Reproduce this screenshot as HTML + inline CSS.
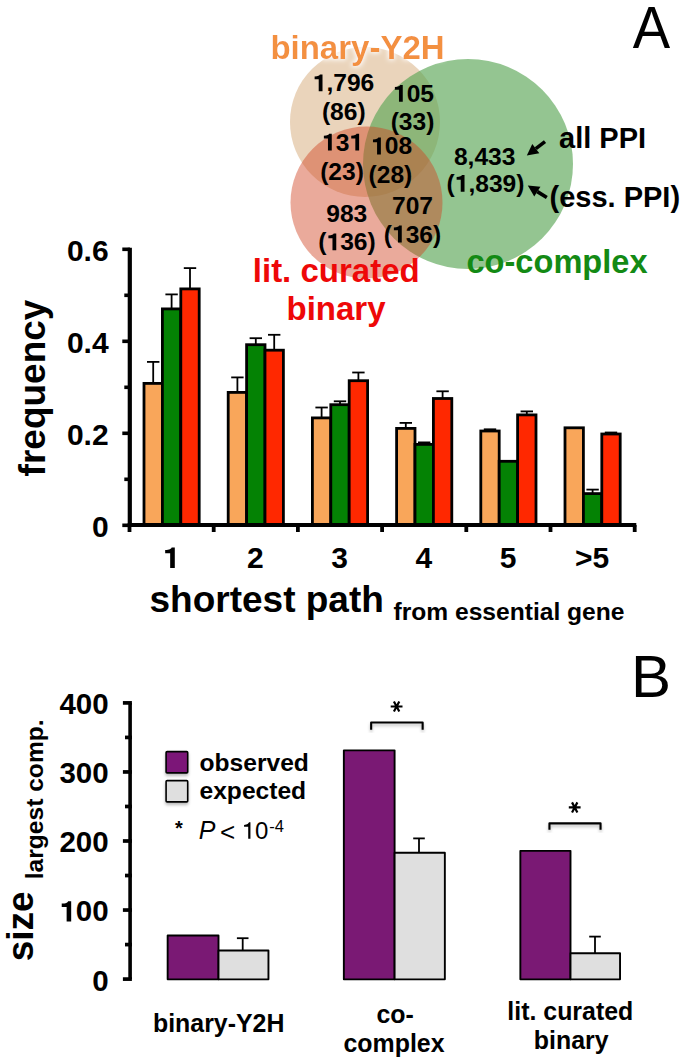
<!DOCTYPE html><html><head><meta charset="utf-8"><style>
html,body{margin:0;padding:0;background:#fff;}
svg{display:block;}
text{font-family:"Liberation Sans", sans-serif;}
.b{font-weight:bold;}
.h{fill-opacity:0;}
</style></head><body>
<svg width="685" height="1064" viewBox="0 0 685 1064">
<defs><filter id="sh" x="-20%" y="-20%" width="140%" height="160%"><feDropShadow dx="0" dy="2.2" stdDeviation="1.6" flood-color="#000" flood-opacity="0.28"/></filter><filter id="glow" x="-10%" y="-40%" width="120%" height="180%"><feMorphology in="SourceAlpha" operator="dilate" radius="1" result="d"/><feGaussianBlur in="d" stdDeviation="2.4" result="b"/><feFlood flood-color="#fff" flood-opacity="1"/><feComposite in2="b" operator="in" result="g"/><feMerge><feMergeNode in="g"/><feMergeNode in="SourceGraphic"/></feMerge></filter><filter id="sh2" x="-5%" y="-5%" width="110%" height="110%"><feDropShadow dx="0.6" dy="1.2" stdDeviation="1.2" flood-color="#000" flood-opacity="0.12"/></filter></defs>
<text x="632.8" y="47.8" font-size="60" textLength="37.4" lengthAdjust="spacingAndGlyphs">A</text>
<circle cx="365" cy="122" r="75" fill="#EAD4BB"/>
<circle cx="468" cy="164" r="105" fill="rgb(90,166,86)" fill-opacity="0.65"/>
<circle cx="366.5" cy="202.5" r="76" fill="rgb(208,66,33)" fill-opacity="0.45"/>
<text class="b" x="270.4" y="58.5" font-size="33" fill="#F3903F" filter="url(#glow)">binary-Y2H</text>
<text id="t1" class="b" x="343.5" y="91.3" font-size="24.6" text-anchor="middle"><tspan class="h">1</tspan>,796</text>
<text class="b" x="343.8" y="119.6" font-size="24.6" text-anchor="middle">(86)</text>
<text id="t2" class="b" x="413.5" y="101.8" font-size="24.6" text-anchor="middle"><tspan class="h">1</tspan>05</text>
<text class="b" x="412.5" y="130.2" font-size="24.6" text-anchor="middle">(33)</text>
<text id="t3" class="b" x="342.5" y="150.6" font-size="24.6" text-anchor="middle"><tspan class="h">1</tspan>3<tspan class="h">1</tspan></text>
<text class="b" x="342.0" y="179.6" font-size="24.6" text-anchor="middle">(23)</text>
<text id="t4" class="b" x="391.6" y="154.4" font-size="24.6" text-anchor="middle"><tspan class="h">1</tspan>08</text>
<text class="b" x="390.4" y="183.3" font-size="24.6" text-anchor="middle">(28)</text>
<text class="b" x="346.8" y="222.0" font-size="24.6" text-anchor="middle">983</text>
<text id="t5" class="b" x="347.0" y="250.3" font-size="24.6" text-anchor="middle">(<tspan class="h">1</tspan>36)</text>
<text class="b" x="412.5" y="213.5" font-size="24.6" text-anchor="middle">707</text>
<text id="t6" class="b" x="412.5" y="242.5" font-size="24.6" text-anchor="middle">(<tspan class="h">1</tspan>36)</text>
<text class="b" x="484.7" y="164.5" font-size="24.6" text-anchor="middle">8,433</text>
<text id="t7" class="b" x="485.5" y="191.8" font-size="24.6" text-anchor="middle">(<tspan class="h">1</tspan>,839)</text>
<text class="b" x="559" y="148.4" font-size="29">all PPI</text>
<text class="b" x="549.5" y="207.4" font-size="29">(ess. PPI)</text>
<line x1="545.0" y1="141.6" x2="535.80" y2="148.57" stroke="#000" stroke-width="3.6"/>
<polygon points="526.8,155.4 532.30,143.95 539.31,153.19" fill="#000"/>
<line x1="546.8" y1="197.6" x2="537.35" y2="191.63" stroke="#000" stroke-width="3.6"/>
<polygon points="527.8,185.6 540.45,186.73 534.26,196.54" fill="#000"/>
<text class="b" x="252.8" y="281.5" font-size="33" fill="#EE0808">lit. curated</text>
<text class="b" x="286.5" y="320.1" font-size="33" fill="#EE0808">binary</text>
<text class="b" x="466.5" y="273" font-size="32.6" fill="#138A14">co-complex</text>
<line x1="153.20" y1="383.40" x2="153.20" y2="361.90" stroke="#000" stroke-width="1.8"/>
<line x1="147.00" y1="361.90" x2="159.40" y2="361.90" stroke="#000" stroke-width="1.8"/>
<rect x="144.00" y="383.40" width="18.4" height="141.90" fill="#F9A65A" stroke="#000" stroke-width="2.8"/>
<line x1="171.60" y1="308.90" x2="171.60" y2="294.40" stroke="#000" stroke-width="1.8"/>
<line x1="165.40" y1="294.40" x2="177.80" y2="294.40" stroke="#000" stroke-width="1.8"/>
<rect x="162.40" y="308.90" width="18.4" height="216.40" fill="#048204" stroke="#000" stroke-width="2.8"/>
<line x1="190.00" y1="288.90" x2="190.00" y2="268.10" stroke="#000" stroke-width="1.8"/>
<line x1="183.80" y1="268.10" x2="196.20" y2="268.10" stroke="#000" stroke-width="1.8"/>
<rect x="180.80" y="288.90" width="18.4" height="236.40" fill="#FF2800" stroke="#000" stroke-width="2.8"/>
<line x1="237.40" y1="392.40" x2="237.40" y2="377.40" stroke="#000" stroke-width="1.8"/>
<line x1="231.20" y1="377.40" x2="243.60" y2="377.40" stroke="#000" stroke-width="1.8"/>
<rect x="228.20" y="392.40" width="18.4" height="132.90" fill="#F9A65A" stroke="#000" stroke-width="2.8"/>
<line x1="255.80" y1="344.70" x2="255.80" y2="338.20" stroke="#000" stroke-width="1.8"/>
<line x1="249.60" y1="338.20" x2="262.00" y2="338.20" stroke="#000" stroke-width="1.8"/>
<rect x="246.60" y="344.70" width="18.4" height="180.60" fill="#048204" stroke="#000" stroke-width="2.8"/>
<line x1="274.20" y1="350.20" x2="274.20" y2="334.80" stroke="#000" stroke-width="1.8"/>
<line x1="268.00" y1="334.80" x2="280.40" y2="334.80" stroke="#000" stroke-width="1.8"/>
<rect x="265.00" y="350.20" width="18.4" height="175.10" fill="#FF2800" stroke="#000" stroke-width="2.8"/>
<line x1="321.60" y1="417.90" x2="321.60" y2="407.50" stroke="#000" stroke-width="1.8"/>
<line x1="315.40" y1="407.50" x2="327.80" y2="407.50" stroke="#000" stroke-width="1.8"/>
<rect x="312.40" y="417.90" width="18.4" height="107.40" fill="#F9A65A" stroke="#000" stroke-width="2.8"/>
<line x1="340.00" y1="404.70" x2="340.00" y2="401.30" stroke="#000" stroke-width="1.8"/>
<line x1="333.80" y1="401.30" x2="346.20" y2="401.30" stroke="#000" stroke-width="1.8"/>
<rect x="330.80" y="404.70" width="18.4" height="120.60" fill="#048204" stroke="#000" stroke-width="2.8"/>
<line x1="358.40" y1="380.70" x2="358.40" y2="372.50" stroke="#000" stroke-width="1.8"/>
<line x1="352.20" y1="372.50" x2="364.60" y2="372.50" stroke="#000" stroke-width="1.8"/>
<rect x="349.20" y="380.70" width="18.4" height="144.60" fill="#FF2800" stroke="#000" stroke-width="2.8"/>
<line x1="405.80" y1="428.40" x2="405.80" y2="422.90" stroke="#000" stroke-width="1.8"/>
<line x1="399.60" y1="422.90" x2="412.00" y2="422.90" stroke="#000" stroke-width="1.8"/>
<rect x="396.60" y="428.40" width="18.4" height="96.90" fill="#F9A65A" stroke="#000" stroke-width="2.8"/>
<line x1="424.20" y1="444.40" x2="424.20" y2="442.40" stroke="#000" stroke-width="1.8"/>
<line x1="418.00" y1="442.40" x2="430.40" y2="442.40" stroke="#000" stroke-width="1.8"/>
<rect x="415.00" y="444.40" width="18.4" height="80.90" fill="#048204" stroke="#000" stroke-width="2.8"/>
<line x1="442.60" y1="398.50" x2="442.60" y2="391.30" stroke="#000" stroke-width="1.8"/>
<line x1="436.40" y1="391.30" x2="448.80" y2="391.30" stroke="#000" stroke-width="1.8"/>
<rect x="433.40" y="398.50" width="18.4" height="126.80" fill="#FF2800" stroke="#000" stroke-width="2.8"/>
<line x1="490.00" y1="431.00" x2="490.00" y2="429.30" stroke="#000" stroke-width="1.8"/>
<line x1="483.80" y1="429.30" x2="496.20" y2="429.30" stroke="#000" stroke-width="1.8"/>
<rect x="480.80" y="431.00" width="18.4" height="94.30" fill="#F9A65A" stroke="#000" stroke-width="2.8"/>
<rect x="499.20" y="461.30" width="18.4" height="64.00" fill="#048204" stroke="#000" stroke-width="2.8"/>
<line x1="526.80" y1="414.90" x2="526.80" y2="411.40" stroke="#000" stroke-width="1.8"/>
<line x1="520.60" y1="411.40" x2="533.00" y2="411.40" stroke="#000" stroke-width="1.8"/>
<rect x="517.60" y="414.90" width="18.4" height="110.40" fill="#FF2800" stroke="#000" stroke-width="2.8"/>
<rect x="565.00" y="427.80" width="18.4" height="97.50" fill="#F9A65A" stroke="#000" stroke-width="2.8"/>
<line x1="592.60" y1="493.60" x2="592.60" y2="489.60" stroke="#000" stroke-width="1.8"/>
<line x1="586.40" y1="489.60" x2="598.80" y2="489.60" stroke="#000" stroke-width="1.8"/>
<rect x="583.40" y="493.60" width="18.4" height="31.70" fill="#048204" stroke="#000" stroke-width="2.8"/>
<line x1="611.00" y1="434.00" x2="611.00" y2="432.50" stroke="#000" stroke-width="1.8"/>
<line x1="604.80" y1="432.50" x2="617.20" y2="432.50" stroke="#000" stroke-width="1.8"/>
<rect x="601.80" y="434.00" width="18.4" height="91.30" fill="#FF2800" stroke="#000" stroke-width="2.8"/>
<line x1="129.8" y1="247.8" x2="129.8" y2="527" stroke="#000" stroke-width="4.2"/>
<line x1="127.7" y1="525" x2="636.3" y2="525" stroke="#000" stroke-width="4.1"/>
<line x1="122.3" y1="525.30" x2="130" y2="525.30" stroke="#000" stroke-width="3.6"/>
<line x1="124.3" y1="479.30" x2="130" y2="479.30" stroke="#000" stroke-width="3.6"/>
<line x1="122.3" y1="433.30" x2="130" y2="433.30" stroke="#000" stroke-width="3.6"/>
<line x1="124.3" y1="387.30" x2="130" y2="387.30" stroke="#000" stroke-width="3.6"/>
<line x1="122.3" y1="341.30" x2="130" y2="341.30" stroke="#000" stroke-width="3.6"/>
<line x1="124.3" y1="295.30" x2="130" y2="295.30" stroke="#000" stroke-width="3.6"/>
<line x1="122.3" y1="249.30" x2="130" y2="249.30" stroke="#000" stroke-width="3.6"/>
<line x1="129.50" y1="525" x2="129.50" y2="532" stroke="#000" stroke-width="3.8"/>
<line x1="213.70" y1="525" x2="213.70" y2="532" stroke="#000" stroke-width="3.8"/>
<line x1="297.90" y1="525" x2="297.90" y2="532" stroke="#000" stroke-width="3.8"/>
<line x1="382.10" y1="525" x2="382.10" y2="532" stroke="#000" stroke-width="3.8"/>
<line x1="466.30" y1="525" x2="466.30" y2="532" stroke="#000" stroke-width="3.8"/>
<line x1="550.50" y1="525" x2="550.50" y2="532" stroke="#000" stroke-width="3.8"/>
<line x1="634.70" y1="525" x2="634.70" y2="532" stroke="#000" stroke-width="3.8"/>
<text class="b" x="108.6" y="261.30" font-size="30" text-anchor="end">0.6</text>
<text class="b" x="108.6" y="353.30" font-size="30" text-anchor="end">0.4</text>
<text class="b" x="108.6" y="445.30" font-size="30" text-anchor="end">0.2</text>
<text class="b" x="108.6" y="537.30" font-size="30" text-anchor="end">0</text>
<text id="t8" class="b" x="171.20" y="568.1" font-size="30" text-anchor="middle"><tspan class="h">1</tspan></text>
<text class="b" x="255.40" y="568.1" font-size="30" text-anchor="middle">2</text>
<text class="b" x="339.60" y="568.1" font-size="30" text-anchor="middle">3</text>
<text class="b" x="423.80" y="568.1" font-size="30" text-anchor="middle">4</text>
<text class="b" x="508.00" y="568.1" font-size="30" text-anchor="middle">5</text>
<text class="b" x="592.20" y="568.1" font-size="30" text-anchor="middle">&gt;5</text>
<text class="b" font-size="37" transform="translate(45,388) rotate(-90)" text-anchor="middle">frequency</text>
<text class="b" x="149.5" y="611.5" font-size="37">shortest path</text>
<text class="b" x="393.5" y="620.4" font-size="24.6">from essential gene</text>
<text x="631.1" y="697.3" font-size="60">B</text>
<line x1="130.1" y1="702.9" x2="130.1" y2="979.1" stroke="#000" stroke-width="3.6"/>
<line x1="122.9" y1="979.10" x2="131.9" y2="979.10" stroke="#000" stroke-width="3.7"/>
<line x1="125" y1="944.58" x2="131.9" y2="944.58" stroke="#000" stroke-width="3.7"/>
<line x1="122.9" y1="910.05" x2="131.9" y2="910.05" stroke="#000" stroke-width="3.7"/>
<line x1="125" y1="875.52" x2="131.9" y2="875.52" stroke="#000" stroke-width="3.7"/>
<line x1="122.9" y1="841.00" x2="131.9" y2="841.00" stroke="#000" stroke-width="3.7"/>
<line x1="125" y1="806.48" x2="131.9" y2="806.48" stroke="#000" stroke-width="3.7"/>
<line x1="122.9" y1="771.95" x2="131.9" y2="771.95" stroke="#000" stroke-width="3.7"/>
<line x1="125" y1="737.42" x2="131.9" y2="737.42" stroke="#000" stroke-width="3.7"/>
<line x1="122.9" y1="702.90" x2="131.9" y2="702.90" stroke="#000" stroke-width="3.7"/>
<text class="b" x="108.7" y="714.30" font-size="29.5" text-anchor="end">400</text>
<text class="b" x="108.7" y="783.35" font-size="29.5" text-anchor="end">300</text>
<text class="b" x="108.7" y="852.40" font-size="29.5" text-anchor="end">200</text>
<text id="t9" class="b" x="108.7" y="921.45" font-size="29.5" text-anchor="end"><tspan class="h">1</tspan>00</text>
<text class="b" x="108.7" y="990.50" font-size="29.5" text-anchor="end">0</text>
<rect x="167.65" y="935.55" width="50.85" height="43.80" fill="#7A1974" stroke="#000" stroke-width="1.9" stroke-linejoin="round"/>
<rect x="218.50" y="950.55" width="49.95" height="28.80" fill="#DFDFDF" stroke="#000" stroke-width="1.9" stroke-linejoin="round"/>
<rect x="343.85" y="750.35" width="50.75" height="229.00" fill="#7A1974" stroke="#000" stroke-width="1.9" stroke-linejoin="round"/>
<rect x="394.60" y="852.75" width="50.25" height="126.60" fill="#DFDFDF" stroke="#000" stroke-width="1.9" stroke-linejoin="round"/>
<rect x="520.35" y="850.85" width="50.15" height="128.50" fill="#7A1974" stroke="#000" stroke-width="1.9" stroke-linejoin="round"/>
<rect x="570.50" y="953.25" width="49.55" height="26.10" fill="#DFDFDF" stroke="#000" stroke-width="1.9" stroke-linejoin="round"/>
<line x1="242.7" y1="950.60" x2="242.7" y2="938.20" stroke="#000" stroke-width="1.8"/>
<line x1="236.90" y1="938.20" x2="248.50" y2="938.20" stroke="#000" stroke-width="1.8"/>
<line x1="419.0" y1="852.80" x2="419.0" y2="838.40" stroke="#000" stroke-width="1.8"/>
<line x1="413.20" y1="838.40" x2="424.80" y2="838.40" stroke="#000" stroke-width="1.8"/>
<line x1="595.0" y1="953.30" x2="595.0" y2="936.60" stroke="#000" stroke-width="1.8"/>
<line x1="589.20" y1="936.60" x2="600.80" y2="936.60" stroke="#000" stroke-width="1.8"/>
<polyline points="371.15000000000003,729.7 371.15000000000003,722.55 422.65,722.55 422.65,729.7" fill="none" stroke="#000" stroke-width="2.1" stroke-linejoin="round" filter="url(#sh)"/>
<polyline points="549.4499999999999,829.7 549.4499999999999,823.3499999999999 600.5500000000001,823.3499999999999 600.5500000000001,829.7" fill="none" stroke="#000" stroke-width="2.1" stroke-linejoin="round" filter="url(#sh)"/>
<path d="M390.70,706.50L402.50,706.50M393.92,701.47L399.28,711.53M393.92,711.53L399.28,701.47" stroke="#000" stroke-width="2.2" fill="none"/>
<path d="M568.80,807.40L580.60,807.40M572.02,802.37L577.38,812.43M572.02,812.43L577.38,802.37" stroke="#000" stroke-width="2.2" fill="none"/>
<rect x="166.1" y="751.6" width="21.6" height="21.3" rx="1" fill="#7C1878" stroke="#000" stroke-width="1.6" filter="url(#sh)"/>
<rect x="166.1" y="780.6" width="21.6" height="21.3" rx="1" fill="#DFDFDF" stroke="#000" stroke-width="1.6" filter="url(#sh)"/>
<text class="b" x="199.5" y="771" font-size="24.6">observed</text>
<text class="b" x="199.5" y="799" font-size="24.6">expected</text>
<text class="b" x="175.0" y="835.2" font-size="20">*</text>
<text x="198.8" y="838.8" font-size="25" font-style="italic">P</text>
<text x="219.9" y="840.6" font-size="26">&lt;</text>
<text id="t10" x="241.65" y="838.8" font-size="24"><tspan class="h">1</tspan>0</text>
<text x="269.3" y="831.9" font-size="16.5">-4</text>
<text class="b" font-size="37" transform="translate(33.3,926.4) rotate(-90)" text-anchor="middle">size</text>
<text class="b" font-size="24.6" transform="translate(42.8,879.3) rotate(-90)">largest comp.</text>
<text class="b" x="218.7" y="1032" font-size="24.9" text-anchor="middle">binary-Y2H</text>
<text class="b" x="395.2" y="1023.1" font-size="24.9" text-anchor="middle">co-</text>
<text class="b" x="394.0" y="1051.5" font-size="24.9" text-anchor="middle">complex</text>
<text class="b" x="570.3" y="1020.2" font-size="24.9" text-anchor="middle">lit. curated</text>
<text class="b" x="571.2" y="1048.7" font-size="24.9" text-anchor="middle">binary</text>
<path d="M499 0L815 0L815 1409L600 1409C570 1320 460 1250 158 1240L158 1010L499 1010Z" fill="#000" transform="translate(312.72,91.30) scale(0.01201,-0.01201)"/>
<path d="M499 0L815 0L815 1409L600 1409C570 1320 460 1250 158 1240L158 1010L499 1010Z" fill="#000" transform="translate(392.98,101.80) scale(0.01201,-0.01201)"/>
<path d="M499 0L815 0L815 1409L600 1409C570 1320 460 1250 158 1240L158 1010L499 1010Z" fill="#000" transform="translate(321.97,150.60) scale(0.01201,-0.01201)"/>
<path d="M499 0L815 0L815 1409L600 1409C570 1320 460 1250 158 1240L158 1010L499 1010Z" fill="#000" transform="translate(349.34,150.60) scale(0.01201,-0.01201)"/>
<path d="M499 0L815 0L815 1409L600 1409C570 1320 460 1250 158 1240L158 1010L499 1010Z" fill="#000" transform="translate(371.08,154.40) scale(0.01201,-0.01201)"/>
<path d="M499 0L815 0L815 1409L600 1409C570 1320 460 1250 158 1240L158 1010L499 1010Z" fill="#000" transform="translate(326.48,250.30) scale(0.01201,-0.01201)"/>
<path d="M499 0L815 0L815 1409L600 1409C570 1320 460 1250 158 1240L158 1010L499 1010Z" fill="#000" transform="translate(391.98,242.50) scale(0.01201,-0.01201)"/>
<path d="M499 0L815 0L815 1409L600 1409C570 1320 460 1250 158 1240L158 1010L499 1010Z" fill="#000" transform="translate(454.73,191.80) scale(0.01201,-0.01201)"/>
<path d="M499 0L815 0L815 1409L600 1409C570 1320 460 1250 158 1240L158 1010L499 1010Z" fill="#000" transform="translate(162.86,568.10) scale(0.01465,-0.01465)"/>
<path d="M499 0L815 0L815 1409L600 1409C570 1320 460 1250 158 1240L158 1010L499 1010Z" fill="#000" transform="translate(59.45,921.45) scale(0.01440,-0.01440)"/>
<path d="M560 0L750 0L750 1409L630 1409C600 1320 480 1195 205 1180L205 1024L560 1024Z" fill="#000" transform="translate(241.65,838.80) scale(0.01172,-0.01172)"/>
</svg></body></html>
